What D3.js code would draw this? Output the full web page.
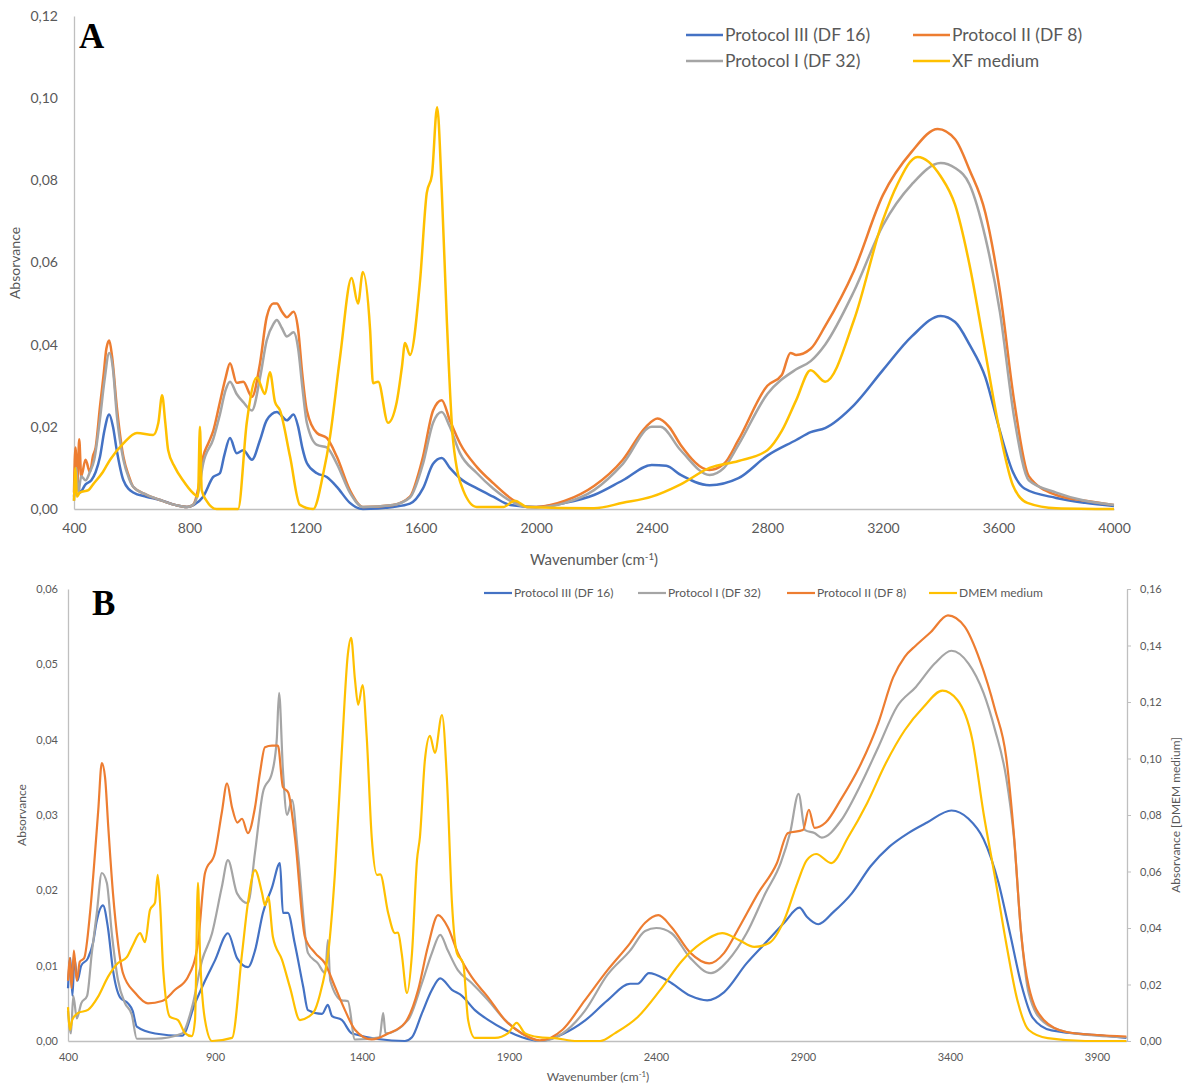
<!DOCTYPE html>
<html>
<head>
<meta charset="utf-8">
<script src="https://cdn.jsdelivr.net/npm/d3@7/dist/d3.min.js"></script>
<style>
  body { margin: 0; background: #fff; }
  svg text { font-family: Lato, "Liberation Sans", sans-serif; fill: #595959; }
</style>
</head>
<body>
<div id="vis"></div>
<script>
// ---- tick values ----
const xTicksA = [400, 800, 1200, 1600, 2000, 2400, 2800, 3200, 3600, 4000];
const yTicksA = [0, 0.02, 0.04, 0.06, 0.08, 0.10, 0.12];
const xTicksB = [400, 900, 1400, 1900, 2400, 2900, 3400, 3900];
const yTicksB = [0, 0.01, 0.02, 0.03, 0.04, 0.05, 0.06];
const yTicksBRight = [0, 0.02, 0.04, 0.06, 0.08, 0.10, 0.12, 0.14, 0.16];

// ---- panel A spectra: [wavenumber, absorbance] ----
const aProtocol3 = [[400,0.003],[410,0.008],[420,0.004],[440,0.006],[460,0.007],[475,0.009],[490,0.0127],[505,0.019],[522,0.023],[535,0.020],[548,0.0143],[571,0.007],[605,0.004],[650,0.003],[698,0.0022],[750,0.001],[791,0.0005],[815,0.001],[847,0.003],[882,0.0078],[905,0.0087],[920,0.013],[940,0.0173],[963,0.0136],[986,0.0143],[1016,0.012],[1044,0.0168],[1067,0.0216],[1102,0.0236],[1137,0.0216],[1160,0.023],[1176,0.020],[1190,0.015],[1206,0.0112],[1241,0.0087],[1275,0.0078],[1310,0.0054],[1355,0.0015],[1400,0.0],[1504,0.0005],[1563,0.0013],[1608,0.005],[1643,0.011],[1673,0.0124],[1701,0.010],[1736,0.0075],[1795,0.005],[1851,0.003],[1910,0.001],[2000,0.0005],[2100,0.0015],[2200,0.0034],[2300,0.007],[2400,0.0107],[2450,0.0105],[2500,0.0083],[2600,0.0058],[2700,0.0075],[2800,0.013],[2900,0.0168],[2950,0.0187],[3000,0.0197],[3100,0.0253],[3200,0.0338],[3300,0.042],[3400,0.047],[3450,0.0455],[3500,0.040],[3555,0.032],[3605,0.019],[3650,0.009],[3690,0.005],[3800,0.0027],[3900,0.0015],[4000,0.0007]];
const aProtocol2 = [[400,0.004],[405,0.015],[412,0.006],[418,0.017],[425,0.008],[440,0.012],[455,0.009],[466,0.013],[475,0.015],[490,0.025],[503,0.033],[512,0.039],[522,0.041],[532,0.037],[548,0.025],[571,0.0127],[590,0.008],[605,0.0054],[650,0.0035],[698,0.0022],[750,0.001],[791,0.0005],[812,0.001],[830,0.005],[847,0.0127],[865,0.016],[882,0.019],[905,0.026],[925,0.032],[940,0.0355],[963,0.0307],[986,0.031],[1016,0.0273],[1044,0.0355],[1067,0.0467],[1090,0.050],[1102,0.050],[1120,0.048],[1137,0.0467],[1160,0.048],[1176,0.0436],[1190,0.033],[1206,0.024],[1241,0.0185],[1275,0.0173],[1310,0.0127],[1355,0.0046],[1400,0.0005],[1504,0.001],[1563,0.003],[1590,0.008],[1608,0.0127],[1643,0.024],[1673,0.0265],[1701,0.0216],[1736,0.016],[1795,0.0102],[1851,0.0063],[1910,0.0027],[1968,0.0005],[2000,0.0005],[2100,0.002],[2200,0.0056],[2300,0.012],[2380,0.020],[2420,0.022],[2460,0.020],[2500,0.0156],[2600,0.0095],[2650,0.011],[2700,0.0168],[2800,0.030],[2850,0.0326],[2880,0.038],[2900,0.0375],[2950,0.039],[3000,0.0445],[3100,0.058],[3200,0.0764],[3300,0.087],[3390,0.0925],[3450,0.090],[3500,0.0825],[3555,0.072],[3605,0.053],[3655,0.026],[3705,0.008],[3800,0.0034],[3900,0.002],[4000,0.001]];
const aProtocol1 = [[400,0.002],[408,0.010],[415,0.004],[425,0.008],[440,0.007],[455,0.009],[470,0.012],[490,0.022],[505,0.031],[522,0.038],[535,0.034],[548,0.023],[571,0.012],[590,0.0075],[605,0.0054],[650,0.0035],[698,0.0022],[750,0.001],[791,0.0005],[812,0.001],[830,0.004],[847,0.011],[882,0.017],[905,0.023],[925,0.029],[940,0.031],[963,0.028],[986,0.026],[1016,0.024],[1044,0.032],[1067,0.041],[1090,0.045],[1102,0.046],[1120,0.044],[1137,0.042],[1160,0.043],[1176,0.039],[1190,0.030],[1206,0.021],[1241,0.0156],[1275,0.015],[1310,0.011],[1355,0.004],[1400,0.0005],[1504,0.001],[1563,0.0028],[1608,0.011],[1643,0.021],[1673,0.0236],[1701,0.020],[1736,0.0136],[1795,0.0087],[1851,0.005],[1910,0.002],[1968,0.0005],[2000,0.0004],[2100,0.0015],[2200,0.0046],[2300,0.011],[2400,0.020],[2430,0.020],[2500,0.0143],[2600,0.0083],[2650,0.010],[2700,0.0156],[2800,0.028],[2900,0.034],[2950,0.036],[3000,0.040],[3100,0.053],[3200,0.069],[3300,0.079],[3400,0.0842],[3450,0.083],[3500,0.079],[3555,0.066],[3605,0.048],[3655,0.022],[3705,0.007],[3800,0.004],[3900,0.002],[4000,0.001]];
const aMedium = [[400,0.002],[405,0.010],[410,0.003],[420,0.004],[450,0.0046],[466,0.006],[500,0.009],[525,0.012],[571,0.016],[618,0.0185],[674,0.018],[692,0.021],[705,0.0277],[716,0.021],[726,0.0143],[749,0.0102],[777,0.007],[812,0.0039],[829,0.003],[836,0.020],[842,0.0046],[859,0.002],[894,0.0],[968,0.0],[998,0.021],[1033,0.032],[1061,0.028],[1078,0.0333],[1096,0.026],[1113,0.024],[1148,0.0127],[1182,0.001],[1228,0.0],[1263,0.0087],[1286,0.0175],[1321,0.037],[1361,0.0562],[1383,0.050],[1400,0.0577],[1425,0.0436],[1435,0.0306],[1453,0.031],[1487,0.021],[1517,0.026],[1535,0.0345],[1546,0.0404],[1563,0.0375],[1598,0.0557],[1621,0.0769],[1639,0.0813],[1657,0.0978],[1673,0.0776],[1691,0.0452],[1712,0.0168],[1747,0.0046],[1794,0.0005],[1886,0.0005],[1926,0.002],[1968,0.0005],[2200,0.0002],[2300,0.0015],[2400,0.003],[2500,0.006],[2600,0.010],[2700,0.0117],[2800,0.0143],[2850,0.019],[2900,0.0265],[2950,0.0338],[3000,0.031],[3100,0.046],[3200,0.0703],[3250,0.079],[3320,0.0857],[3400,0.081],[3450,0.074],[3500,0.0594],[3550,0.040],[3600,0.0204],[3650,0.0058],[3700,0.0015],[3800,0.0002],[4000,0.0]];

// ---- panel B spectra ----
const bProtocol3 = [[400,0.007],[408,0.011],[415,0.006],[422,0.011],[432,0.008],[445,0.010],[468,0.011],[485,0.013],[498,0.016],[519,0.018],[536,0.015],[553,0.0094],[577,0.0058],[604,0.005],[620,0.004],[634,0.0019],[696,0.001],[788,0.0007],[832,0.005],[866,0.008],[900,0.0107],[944,0.0143],[975,0.011],[1012,0.0098],[1036,0.012],[1063,0.017],[1094,0.0204],[1121,0.0236],[1131,0.017],[1148,0.017],[1171,0.013],[1200,0.0072],[1216,0.0041],[1264,0.0036],[1284,0.0048],[1298,0.0033],[1331,0.0028],[1366,0.001],[1546,0.0],[1570,0.0005],[1604,0.0037],[1638,0.0068],[1666,0.0083],[1706,0.0068],[1740,0.006],[1784,0.0041],[1829,0.0028],[1886,0.0015],[1944,0.0005],[2005,0.0],[2082,0.0009],[2158,0.0027],[2235,0.0054],[2312,0.0076],[2338,0.0076],[2376,0.009],[2440,0.008],[2517,0.006],[2574,0.0054],[2632,0.0065],[2708,0.0103],[2772,0.013],[2836,0.0157],[2888,0.0177],[2913,0.0165],[2952,0.0155],[3003,0.0171],[3066,0.0196],[3130,0.0232],[3194,0.0258],[3258,0.0276],[3322,0.029],[3405,0.0306],[3463,0.0295],[3514,0.0268],[3565,0.021],[3604,0.0143],[3642,0.0076],[3681,0.0031],[3745,0.0014],[3924,0.0007],[4000,0.0004]];
const bProtocol1 = [[400,0.004],[410,0.001],[418,0.006],[430,0.003],[445,0.005],[465,0.006],[481,0.0117],[498,0.017],[515,0.0223],[532,0.021],[549,0.0143],[570,0.0081],[594,0.005],[617,0.0035],[634,0.0003],[696,0.0003],[788,0.001],[822,0.0045],[856,0.0107],[890,0.0143],[923,0.0204],[944,0.024],[975,0.0196],[1012,0.0183],[1036,0.025],[1063,0.033],[1094,0.0356],[1110,0.040],[1118,0.0462],[1131,0.036],[1145,0.030],[1162,0.032],[1182,0.025],[1216,0.0117],[1250,0.0103],[1275,0.009],[1284,0.0134],[1292,0.008],[1331,0.0054],[1352,0.0053],[1376,0.0002],[1460,0.0005],[1472,0.0037],[1480,0.001],[1557,0.0028],[1604,0.0077],[1638,0.0117],[1666,0.0141],[1692,0.012],[1726,0.0094],[1773,0.0077],[1829,0.0054],[1886,0.0028],[1944,0.001],[2005,0.0],[2082,0.001],[2158,0.004],[2235,0.0088],[2312,0.012],[2363,0.0146],[2401,0.015],[2453,0.0143],[2517,0.011],[2587,0.009],[2645,0.0107],[2708,0.0143],[2772,0.0196],[2824,0.0236],[2856,0.0276],[2885,0.0328],[2907,0.028],[2939,0.0276],[2964,0.027],[3028,0.0292],[3092,0.0337],[3156,0.039],[3220,0.0444],[3284,0.047],[3348,0.0501],[3405,0.0518],[3463,0.0501],[3514,0.0462],[3553,0.0413],[3591,0.035],[3617,0.0272],[3642,0.0143],[3668,0.0063],[3719,0.0025],[3796,0.0012],[3900,0.0007],[4000,0.0005]];
const bProtocol2 = [[400,0.008],[406,0.011],[412,0.007],[420,0.012],[430,0.008],[440,0.0105],[455,0.011],[475,0.017],[492,0.025],[503,0.0307],[515,0.0369],[526,0.035],[537,0.0284],[553,0.0196],[570,0.013],[587,0.009],[628,0.0064],[672,0.005],[720,0.0053],[764,0.0068],[808,0.0085],[842,0.013],[866,0.0223],[900,0.025],[923,0.0303],[941,0.0342],[958,0.031],[976,0.029],[992,0.0295],[1012,0.0276],[1036,0.031],[1053,0.0356],[1070,0.039],[1094,0.0392],[1114,0.0392],[1131,0.0337],[1149,0.033],[1172,0.027],[1206,0.0138],[1240,0.0117],[1274,0.0103],[1308,0.0072],[1342,0.0041],[1376,0.0015],[1433,0.0002],[1489,0.001],[1546,0.0024],[1591,0.0068],[1624,0.0125],[1659,0.0167],[1692,0.0151],[1726,0.0117],[1773,0.0085],[1829,0.0058],[1886,0.0028],[1944,0.001],[2005,0.0001],[2082,0.0015],[2158,0.0054],[2235,0.0094],[2312,0.013],[2363,0.0157],[2408,0.0167],[2453,0.0151],[2517,0.0117],[2581,0.0103],[2632,0.0117],[2683,0.0151],[2747,0.0196],[2811,0.0236],[2849,0.0276],[2900,0.028],[2920,0.0307],[2939,0.0283],[2977,0.029],[3028,0.032],[3092,0.0364],[3156,0.0422],[3207,0.0483],[3246,0.051],[3284,0.0525],[3335,0.0543],[3393,0.0565],[3450,0.055],[3501,0.0506],[3553,0.044],[3591,0.0377],[3617,0.0276],[3642,0.0143],[3668,0.0072],[3719,0.0028],[3796,0.0012],[3900,0.0008],[4000,0.0006]];
// DMEM medium is plotted on the secondary (right) axis
const bMedium = [[400,0.012],[407,0.004],[414,0.0074],[434,0.0099],[468,0.011],[502,0.0156],[536,0.0227],[570,0.0276],[600,0.0297],[621,0.034],[645,0.0382],[662,0.035],[679,0.0464],[696,0.049],[705,0.0588],[713,0.049],[724,0.025],[747,0.0085],[774,0.0074],[798,0.0028],[821,0.0017],[832,0.0074],[842,0.056],[849,0.031],[866,0.0074],[890,0.0],[958,0.0011],[992,0.031],[1012,0.0489],[1036,0.0605],[1060,0.0524],[1070,0.048],[1081,0.051],[1097,0.0368],[1128,0.0287],[1155,0.019],[1189,0.0074],[1217,0.0085],[1240,0.011],[1263,0.019],[1285,0.031],[1308,0.0595],[1331,0.102],[1352,0.137],[1363,0.1427],[1376,0.128],[1387,0.119],[1402,0.126],[1416,0.1077],[1433,0.0722],[1451,0.0588],[1462,0.059],[1489,0.0453],[1512,0.0382],[1523,0.0384],[1535,0.031],[1553,0.017],[1570,0.031],[1587,0.064],[1597,0.0722],[1614,0.0995],[1631,0.108],[1648,0.102],[1672,0.1154],[1689,0.0924],[1706,0.0489],[1723,0.031],[1744,0.0276],[1761,0.0074],[1784,0.0011],[1852,0.0011],[1897,0.0028],[1926,0.0064],[1954,0.0028],[2000,0.0014],[2056,0.001],[2133,0.0],[2210,0.0],[2261,0.0028],[2338,0.0085],[2414,0.018],[2491,0.0287],[2555,0.0347],[2625,0.0382],[2683,0.0357],[2734,0.0333],[2785,0.0347],[2836,0.0428],[2881,0.056],[2913,0.064],[2945,0.0662],[2996,0.063],[3054,0.0722],[3118,0.0842],[3182,0.0984],[3246,0.110],[3310,0.1182],[3374,0.124],[3425,0.1207],[3476,0.1066],[3514,0.0807],[3553,0.058],[3591,0.0347],[3629,0.0145],[3668,0.0039],[3732,0.001],[3860,0.0],[4000,0.0]];

const blue = "#4472C4", orange = "#ED7D31", grey = "#A5A5A5", gold = "#FFC000";
const axisColor = "#bfbfbf";
const comma = d => d3.format(".2f")(d).replace(".", ",");

const svg = d3.select("#vis")
    .append("svg")
    .attr("width", 1185)
    .attr("height", 1086)
    .style("background", "#fff");

function styleAxis(g, fontSize) {
    g.select(".domain").attr("stroke", axisColor).attr("stroke-width", 1.3);
    g.selectAll(".tick line").attr("stroke", axisColor);
    g.selectAll(".tick text")
        .attr("fill", "#595959")
        .style("font-size", fontSize + "px")
        .style("font-family", "Lato, 'Liberation Sans', sans-serif");
}

function drawSeries(g, series, x, width) {
    g.selectAll("path.spectrum")
        .data(series)
        .join("path")
        .attr("class", "spectrum")
        .attr("fill", "none")
        .attr("stroke", d => d.color)
        .attr("stroke-width", width)
        .attr("stroke-linejoin", "round")
        .attr("d", d => d3.line()
            .x(p => x(p[0]))
            .y(p => d.y(p[1]))
            .curve(d3.curveMonotoneX)(d.values));
}

function wavenumberLabel(g, cx, cy, size) {
    const t = g.append("text")
        .attr("x", cx).attr("y", cy)
        .attr("text-anchor", "middle")
        .style("font-size", size + "px");
    t.append("tspan").text("Wavenumber (cm");
    t.append("tspan").attr("dy", -size * 0.35).style("font-size", (size * 0.65) + "px").text("-1");
    t.append("tspan").attr("dy", size * 0.35).text(")");
}

// ================= Panel A =================
const gA = svg.append("g");
const xA = d3.scaleLinear().domain([400, 4000]).range([74, 1114]);
const yA = d3.scaleLinear().domain([0, 0.12]).range([509, 16]);

gA.append("g")
    .attr("transform", "translate(0,509)")
    .call(d3.axisBottom(xA).tickValues(xTicksA).tickSize(0).tickPadding(14).tickFormat(d3.format("d")))
    .call(g => styleAxis(g, 14));

gA.append("g")
    .attr("transform", "translate(74,0)")
    .call(d3.axisLeft(yA).tickValues(yTicksA).tickSize(0).tickPadding(16).tickFormat(comma))
    .call(g => styleAxis(g, 14));

drawSeries(gA, [
    {color: blue, y: yA, values: aProtocol3},
    {color: orange, y: yA, values: aProtocol2},
    {color: grey, y: yA, values: aProtocol1},
    {color: gold, y: yA, values: aMedium}
], xA, 2.5);

gA.append("text")
    .attr("transform", "translate(20,263) rotate(-90)")
    .attr("text-anchor", "middle")
    .style("font-size", "14px")
    .text("Absorvance");
wavenumberLabel(gA, 594, 565, 15);

gA.append("text")
    .attr("x", 79).attr("y", 48)
    .style("font-family", "'Liberation Serif', serif")
    .style("font-weight", "bold")
    .style("font-size", "35px")
    .style("fill", "#000")
    .text("A");

const legendA = [
    {label: "Protocol III (DF 16)", color: blue, x: 686, y: 35},
    {label: "Protocol II (DF 8)", color: orange, x: 913, y: 35},
    {label: "Protocol I (DF 32)", color: grey, x: 686, y: 61},
    {label: "XF medium", color: gold, x: 913, y: 61}
];
const legA = gA.selectAll("g.leg").data(legendA).join("g").attr("class", "leg")
    .attr("transform", d => `translate(${d.x},${d.y})`);
legA.append("line").attr("x1", 0).attr("x2", 37).attr("stroke", d => d.color).attr("stroke-width", 2.5);
legA.append("text").attr("x", 39).attr("dy", "0.35em").style("font-size", "17.5px").text(d => d.label);

// ================= Panel B =================
const gB = svg.append("g");
const xB = d3.scaleLinear().domain([400, 4000]).range([68, 1126.4]);
const yB = d3.scaleLinear().domain([0, 0.06]).range([1041, 589]);
const yBRight = d3.scaleLinear().domain([0, 0.16]).range([1041, 589]);

gB.append("g")
    .attr("transform", "translate(0,1041)")
    .call(d3.axisBottom(xB).tickValues(xTicksB).tickSize(0).tickPadding(12).tickFormat(d3.format("d")))
    .call(g => styleAxis(g, 11));

gB.append("g")
    .attr("transform", "translate(68,0)")
    .call(d3.axisLeft(yB).tickValues(yTicksB).tickSize(0).tickPadding(10).tickFormat(comma))
    .call(g => styleAxis(g, 11));

gB.append("g")
    .attr("transform", "translate(1127,0)")
    .call(d3.axisRight(yBRight).tickValues(yTicksBRight).tickSize(4).tickSizeOuter(0).tickPadding(9).tickFormat(comma))
    .call(g => styleAxis(g, 11));

drawSeries(gB, [
    {color: blue, y: yB, values: bProtocol3},
    {color: grey, y: yB, values: bProtocol1},
    {color: orange, y: yB, values: bProtocol2},
    {color: gold, y: yBRight, values: bMedium}
], xB, 2.2);

gB.append("text")
    .attr("transform", "translate(26,815) rotate(-90)")
    .attr("text-anchor", "middle")
    .style("font-size", "12px")
    .text("Absorvance");
gB.append("text")
    .attr("transform", "translate(1180,815) rotate(-90)")
    .attr("text-anchor", "middle")
    .style("font-size", "12px")
    .text("Absorvance [DMEM medium]");
wavenumberLabel(gB, 598, 1081, 12);

gB.append("text")
    .attr("x", 92).attr("y", 615)
    .style("font-family", "'Liberation Serif', serif")
    .style("font-weight", "bold")
    .style("font-size", "35px")
    .style("fill", "#000")
    .text("B");

const legendB = [
    {label: "Protocol III (DF 16)", color: blue, x: 484},
    {label: "Protocol I (DF 32)", color: grey, x: 638},
    {label: "Protocol II (DF 8)", color: orange, x: 787},
    {label: "DMEM medium", color: gold, x: 929}
];
const legB = gB.selectAll("g.leg").data(legendB).join("g").attr("class", "leg")
    .attr("transform", d => `translate(${d.x},593)`);
legB.append("line").attr("x1", 0).attr("x2", 28).attr("stroke", d => d.color).attr("stroke-width", 2.2);
legB.append("text").attr("x", 30).attr("dy", "0.35em").style("font-size", "12px").text(d => d.label);
</script>
</body>
</html>
